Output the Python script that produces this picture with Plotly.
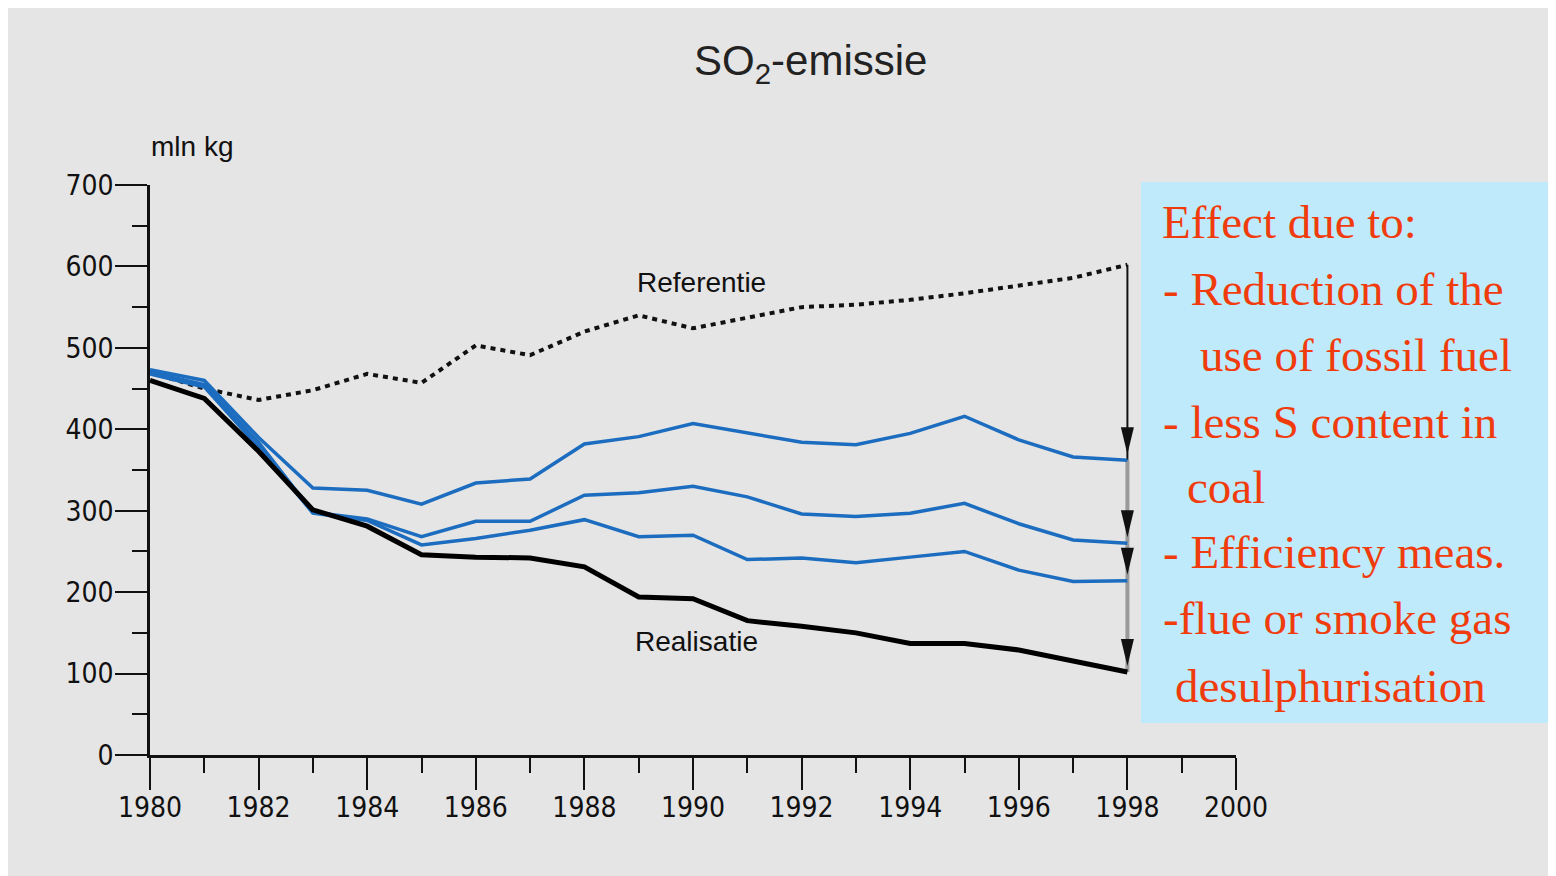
import plotly.graph_objects as go

years = list(range(1980, 1999))
referentie = [470, 450, 436, 448, 468, 457, 503, 491, 520, 540, 524, 537, 550, 553, 559, 567, 577, 586, 602]
scen_fossil = [473, 460, 390, 328, 325, 308, 334, 339, 382, 391, 407, 396, 384, 381, 395, 416, 387, 366, 362]
scen_sulphur = [470, 455, 384, 298, 290, 268, 287, 287, 319, 322, 330, 317, 296, 293, 297, 309, 284, 264, 260]
scen_efficiency = [468, 452, 378, 297, 288, 258, 266, 276, 289, 268, 270, 240, 242, 236, 243, 250, 227, 213, 214]
realisatie = [460, 438, 373, 301, 281, 246, 243, 242, 231, 194, 192, 165, 158, 150, 137, 137, 129, 115, 102]

box_lines = [
    "Effect due to:",
    "- Reduction of the",
    "use of fossil fuel",
    "- less S content in",
    "coal",
    "- Efficiency meas.",
    "-flue or smoke gas",
    "desulphurisation",
]

W, H = 1556, 876
OFF = 8  # page body margin
ML, MT = 150 - OFF, 185 - OFF
PW, PH = 1086, 570
MR = W - ML - PW
MB = H - MT - PH

def px(xs):
    return (xs - OFF - ML) / PW

def py(ys):
    return (MT + PH - (ys - OFF)) / PH

BG = "#e5e5e5"
BLUE = "#1c6dbf"
RED = "#f03c0c"
NARROW = "Liberation Sans Narrow, DejaVu Sans Condensed, Liberation Sans, sans-serif"
SANS = "Liberation Sans, Arial, sans-serif"
SERIF = "Liberation Serif, Times New Roman, serif"

fig = go.Figure()
fig.add_trace(go.Scatter(x=years, y=referentie, mode="lines",
                         line=dict(color="#111111", width=4, dash="5px,5px"), hoverinfo="skip"))
for s in (scen_fossil, scen_sulphur, scen_efficiency):
    fig.add_trace(go.Scatter(x=years, y=s, mode="lines",
                             line=dict(color=BLUE, width=3.5), hoverinfo="skip"))
fig.add_trace(go.Scatter(x=years, y=realisatie, mode="lines",
                         line=dict(color="#000000", width=5), hoverinfo="skip"))

annotations = []
shapes = []

# blue text box
shapes.append(dict(type="rect", xref="paper", yref="paper", x0=px(1141), x1=px(W + 30),
                   y0=py(723), y1=py(182), fillcolor="#bfeafc", line=dict(width=0), layer="above"))

# arrows at the final year
xe = years[-1]
chain = [referentie[-1], scen_fossil[-1], scen_sulphur[-1], scen_efficiency[-1], realisatie[-1]]
for i in range(4):
    start, end = chain[i], chain[i + 1]
    if i == 0:
        col, lw = "#111111", 2
    else:
        col, lw = "#9a9a9a", 4
    shapes.append(dict(type="line", xref="x", yref="y", x0=xe, x1=xe, y0=start, y1=end,
                       line=dict(color=col, width=lw), layer="below"))
    shapes.append(dict(type="path", xref="x", yref="y", xsizemode="pixel", ysizemode="pixel",
                       xanchor=xe, yanchor=end, path="M0,6 L-6.5,33 L6.5,33 Z",
                       fillcolor="#111111", line=dict(width=0)))

# series labels
annotations.append(dict(x=1990.15, y=580, xref="x", yref="y", text="Referentie", showarrow=False,
                        xanchor="center", yanchor="middle",
                        font=dict(family=SANS, size=28, color="#111111")))
annotations.append(dict(x=1990.07, y=140, xref="x", yref="y", text="Realisatie", showarrow=False,
                        xanchor="center", yanchor="middle",
                        font=dict(family=SANS, size=28, color="#111111")))

# unit label
annotations.append(dict(x=px(191.5), y=py(146), xref="paper", yref="paper", text="mln kg",
                        xanchor="center", yanchor="middle", showarrow=False,
                        font=dict(family=SANS, size=28, color="#111111")))

# title
annotations.append(dict(x=px(811), y=py(35), xref="paper", yref="paper",
                        xanchor="center", yanchor="top",
                        text="SO<sub>2</sub>-emissie", showarrow=False,
                        font=dict(family=SANS, size=42, color="#222222")))

# text box lines
baselines = [238.3, 305, 370.7, 437.7, 503.3, 568.3, 634, 701.7]
lefts = [1160, 1161, 1198, 1161, 1185, 1161, 1161, 1173]
fs = 47
for t, b, l in zip(box_lines, baselines, lefts):
    annotations.append(dict(x=px(l), y=py(b - 0.3375 * fs), xref="paper", yref="paper",
                            xanchor="left", yanchor="middle", text=t, showarrow=False,
                            font=dict(family=SERIF, size=fs, color=RED)))

fig.update_layout(
    width=W, height=H,
    margin=dict(l=ML, r=MR, t=MT, b=MB, pad=0),
    paper_bgcolor=BG, plot_bgcolor=BG,
    showlegend=False,
    annotations=annotations, shapes=shapes,
    xaxis=dict(range=[1980, 2000], tickmode="linear", tick0=1980, dtick=2,
               ticks="outside", ticklen=32, tickwidth=2, tickcolor="#111111",
               showline=True, linecolor="#111111", linewidth=3,
               showgrid=False, zeroline=False, ticklabelstandoff=-7,
               minor=dict(ticks="outside", dtick=1, tick0=1980, ticklen=15, tickwidth=2,
                          tickcolor="#111111", showgrid=False),
               tickfont=dict(family=NARROW, size=28, color="#111111")),
    yaxis=dict(range=[0, 700], tickmode="linear", tick0=0, dtick=100,
               ticks="outside", ticklen=32, tickwidth=2, tickcolor="#111111",
               showline=True, linecolor="#111111", linewidth=2.5,
               showgrid=False, zeroline=False, ticklabelstandoff=-4,
               minor=dict(ticks="outside", dtick=50, tick0=0, ticklen=15, tickwidth=2,
                          tickcolor="#111111", showgrid=False),
               tickfont=dict(family=NARROW, size=28, color="#111111")),
)

fig.write_html("out.html",
               post_script="document.documentElement.style.overflow='hidden';"
                           "document.body.style.overflow='hidden';")
